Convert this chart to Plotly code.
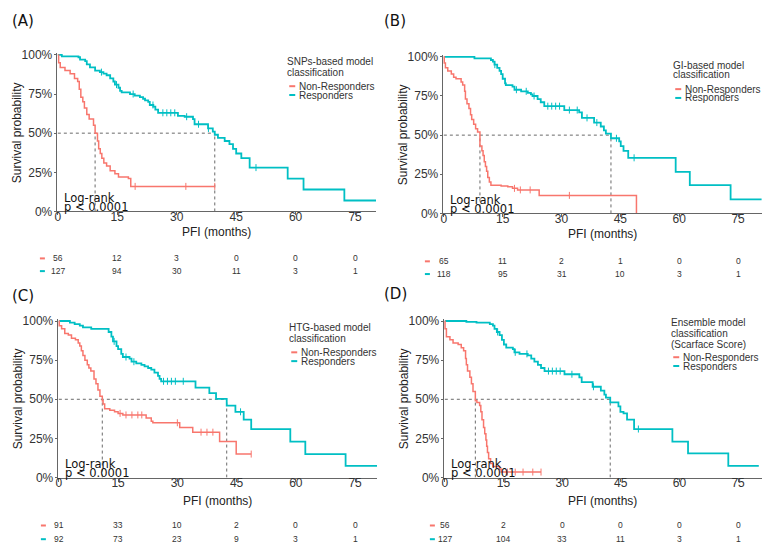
import plotly.graph_objects as go

W, H = 769, 555
RED = "#F8766D"
CYAN = "#00BFC4"

# ---------------- data ----------------
# Panel A (SNPs-based)
A_nr_t = [0, 0.2, 0.6, 1.8, 3.1, 4.2, 5.0, 5.4, 5.8, 6.3, 6.7, 7.3, 7.9, 9.0, 9.4, 10.0, 10.3, 10.7, 11.1, 11.6, 12.3, 13.2, 14.4, 15.3, 17.8, 18.4, 39.6]
A_nr_s = [1.0, 0.95, 0.92, 0.90, 0.88, 0.85, 0.83, 0.78, 0.73, 0.70, 0.66, 0.62, 0.59, 0.55, 0.50, 0.45, 0.40, 0.37, 0.34, 0.31, 0.29, 0.26, 0.24, 0.22, 0.21, 0.16, 0.16]
A_r_t = [0, 1.0, 5.2, 5.6, 6.9, 7.3, 8.1, 9.4, 10.6, 11.5, 12.3, 13.2, 14.0, 14.4, 15.3, 15.7, 16.1, 18.2, 19.4, 20.7, 21.5, 22.0, 22.8, 23.2, 24.1, 24.6, 25.3, 30.3, 32.0, 34.1, 34.5, 37.9, 39.1, 39.6, 40.4, 42.1, 43.3, 44.2, 45.0, 46.3, 48.4, 58.0, 62.0, 72.3, 80.3]
A_r_s = [1.0, 0.99, 0.985, 0.97, 0.96, 0.94, 0.92, 0.90, 0.89, 0.88, 0.87, 0.85, 0.83, 0.81, 0.79, 0.77, 0.76, 0.75, 0.74, 0.73, 0.72, 0.71, 0.70, 0.68, 0.67, 0.65, 0.63, 0.61, 0.605, 0.59, 0.557, 0.53, 0.51, 0.49, 0.47, 0.45, 0.43, 0.40, 0.37, 0.34, 0.28, 0.21, 0.14, 0.07, 0.07]
A_nr_cens = [19.5, 32.3, 39.6]
A_r_cens = [11.0, 14.8, 19.0, 24.0, 26.5, 27.5, 28.5, 29.5, 32.5, 35.5, 38.0, 50.0]
A_medians = [9.4, 39.6]

# Panel B (GI-based)
B_nr_t = [0, 0.1, 0.4, 1.0, 1.9, 2.5, 3.1, 4.4, 4.8, 5.3, 5.5, 5.9, 6.4, 6.8, 7.1, 7.6, 8.1, 8.6, 9.2, 9.7, 10.0, 10.3, 10.6, 10.9, 11.2, 11.6, 12.0, 14.6, 16.3, 17.5, 18.8, 24.3, 49.1]
B_nr_s = [1.0, 0.96, 0.93, 0.91, 0.89, 0.87, 0.86, 0.84, 0.82, 0.78, 0.73, 0.70, 0.67, 0.63, 0.60, 0.57, 0.54, 0.52, 0.43, 0.40, 0.37, 0.33, 0.30, 0.27, 0.23, 0.20, 0.18, 0.175, 0.17, 0.16, 0.15, 0.115, 0.0]
B_r_t = [0, 7.8, 12.0, 12.5, 12.9, 13.6, 14.2, 14.6, 15.0, 15.6, 15.8, 17.5, 18.0, 19.7, 21.4, 22.2, 22.6, 23.9, 24.7, 25.6, 30.7, 34.5, 35.2, 38.3, 40.0, 40.8, 41.3, 42.6, 44.7, 45.1, 45.8, 47.0, 59.1, 62.7, 73.1, 81.0]
B_r_s = [1.0, 0.99, 0.98, 0.97, 0.95, 0.93, 0.91, 0.89, 0.86, 0.83, 0.82, 0.81, 0.79, 0.78, 0.77, 0.76, 0.75, 0.73, 0.71, 0.685, 0.66, 0.645, 0.61, 0.58, 0.555, 0.53, 0.51, 0.48, 0.46, 0.43, 0.40, 0.355, 0.265, 0.18, 0.09, 0.09]
B_nr_cens = [18.0, 19.5, 22.0, 32.0]
B_r_cens = [13.0, 18.5, 21.0, 23.0, 26.5, 27.5, 28.5, 29.5, 32.0, 34.0, 36.5, 39.0, 44.0, 48.5]
B_medians = [9.2, 42.6]

# Panel C (HTG-based)
C_nr_t = [0, 0.1, 0.7, 1.5, 2.4, 3.2, 4.2, 4.9, 5.3, 5.7, 6.1, 6.6, 7.2, 7.6, 8.1, 8.9, 9.4, 9.9, 10.4, 11.0, 11.2, 11.6, 12.9, 14.1, 15.0, 16.2, 22.1, 23.4, 23.8, 30.6, 33.9, 40.7, 44.9, 48.7]
C_nr_s = [1.0, 0.97, 0.95, 0.92, 0.91, 0.89, 0.88, 0.86, 0.84, 0.81, 0.78, 0.75, 0.72, 0.70, 0.68, 0.63, 0.60, 0.56, 0.52, 0.49, 0.47, 0.44, 0.43, 0.42, 0.41, 0.40, 0.38, 0.36, 0.35, 0.32, 0.29, 0.23, 0.15, 0.15]
C_r_t = [0, 2.8, 4.0, 5.3, 6.1, 8.2, 12.6, 13.3, 13.7, 14.6, 15.0, 15.8, 16.2, 17.9, 18.4, 19.6, 20.9, 21.7, 22.6, 23.4, 24.2, 25.1, 25.5, 25.9, 34.6, 38.1, 39.8, 42.5, 44.7, 46.8, 48.7, 58.6, 62.4, 72.6, 80.6]
C_r_s = [1.0, 0.99, 0.98, 0.97, 0.96, 0.95, 0.93, 0.90, 0.87, 0.84, 0.82, 0.79, 0.77, 0.76, 0.74, 0.73, 0.72, 0.71, 0.70, 0.69, 0.67, 0.65, 0.63, 0.615, 0.575, 0.54, 0.503, 0.46, 0.42, 0.37, 0.31, 0.23, 0.15, 0.075, 0.075]
C_nr_cens = [15.5, 17.0, 18.5, 20.0, 21.0, 30.0, 36.0, 37.5, 39.0, 48.7]
C_r_cens = [14.0, 17.0, 19.0, 26.5, 27.5, 28.5, 29.5, 31.5, 46.0]
C_medians = [11.0, 42.5]

# Panel D (Ensemble / Scarface Score)
D_nr_t = [0, 0.05, 0.4, 1.3, 2.1, 3.4, 4.2, 4.8, 5.3, 5.5, 5.8, 6.4, 6.8, 7.2, 7.8, 8.2, 8.9, 9.2, 9.5, 9.9, 10.2, 10.5, 10.7, 10.9, 11.2, 11.7, 12.3, 14.0, 14.4, 24.6]
D_nr_s = [1.0, 0.95, 0.90, 0.88, 0.86, 0.85, 0.83, 0.81, 0.76, 0.72, 0.68, 0.64, 0.60, 0.55, 0.49, 0.48, 0.46, 0.42, 0.37, 0.32, 0.28, 0.24, 0.20, 0.16, 0.12, 0.09, 0.07, 0.055, 0.035, 0.035]
D_r_t = [0, 5.5, 8.1, 11.5, 12.3, 12.7, 13.3, 14.0, 14.6, 15.1, 15.7, 17.4, 17.8, 19.1, 21.2, 22.1, 22.9, 23.8, 24.6, 25.5, 30.6, 34.4, 35.0, 37.8, 39.9, 40.8, 41.2, 42.3, 44.4, 44.9, 45.7, 46.6, 48.4, 58.2, 62.2, 72.5, 80.3]
D_r_s = [1.0, 0.995, 0.99, 0.98, 0.97, 0.95, 0.93, 0.91, 0.88, 0.85, 0.83, 0.82, 0.80, 0.79, 0.78, 0.76, 0.74, 0.72, 0.70, 0.68, 0.66, 0.64, 0.61, 0.58, 0.555, 0.53, 0.51, 0.48, 0.455, 0.42, 0.41, 0.37, 0.31, 0.23, 0.155, 0.075, 0.075]
D_nr_cens = [16.0, 18.0, 20.0, 22.5, 24.6]
D_r_cens = [13.5, 18.0, 21.0, 26.5, 27.5, 28.5, 29.5, 32.5, 38.0, 49.5]
D_medians = [7.8, 42.3]

# risk tables
risk_times = [0, 15, 30, 45, 60, 75]
A_risk_nr = [56, 12, 3, 0, 0, 0]
A_risk_r = [127, 94, 30, 11, 3, 1]
B_risk_nr = [65, 11, 2, 1, 0, 0]
B_risk_r = [118, 95, 31, 10, 3, 1]
C_risk_nr = [91, 33, 10, 2, 0, 0]
C_risk_r = [92, 73, 23, 9, 3, 1]
D_risk_nr = [56, 2, 0, 0, 0, 0]
D_risk_r = [127, 104, 33, 11, 3, 1]

x_ticks = [0, 15, 30, 45, 60, 75]
y_ticks = [0, 0.25, 0.5, 0.75, 1.0]
y_ticklabels = ["0%", "25%", "50%", "75%", "100%"]

panel_labels = ["(A)", "(B)", "(C)", "(D)"]
legend_titles = [["SNPs-based model", "classification"],
                 ["GI-based model", "classification"],
                 ["HTG-based model", "classification"],
                 ["Ensemble model", "classification", "(Scarface Score)"]]
series_names = ["Non-Responders", "Responders"]

# ---------------- layout geometry (pixels) ----------------
geo = [
    dict(x0=56, ppu=3.973, xend=375, y0=211, y1=51, lab=(21, 16),
         leg_x=286, leg_title_y=[58, 69], leg_items_y=[83, 92],
         risk_y=[259, 272], risk_dash_x=41, pfi_y=232),
    dict(x0=443, ppu=3.933, xend=762, y0=213, y1=53, lab=(394, 16),
         leg_x=673, leg_title_y=[62, 71], leg_items_y=[86, 95],
         risk_y=[262, 275], risk_dash_x=427, pfi_y=234),
    dict(x0=57, ppu=3.96, xend=376, y0=483, y1=323, lab=(21, 297),
         leg_x=288, leg_title_y=[330, 341], leg_items_y=[355, 364],
         risk_y=[532, 546], risk_dash_x=42, pfi_y=507),
    dict(x0=444, ppu=3.92, xend=762, y0=483, y1=323, lab=(395, 295),
         leg_x=671, leg_title_y=[325, 336, 347], leg_items_y=[360, 369],
         risk_y=[532, 546], risk_dash_x=432, pfi_y=507),
]

panels = [
    (A_nr_t, A_nr_s, A_r_t, A_r_s, A_nr_cens, A_r_cens, A_medians, A_risk_nr, A_risk_r),
    (B_nr_t, B_nr_s, B_r_t, B_r_s, B_nr_cens, B_r_cens, B_medians, B_risk_nr, B_risk_r),
    (C_nr_t, C_nr_s, C_r_t, C_r_s, C_nr_cens, C_r_cens, C_medians, C_risk_nr, C_risk_r),
    (D_nr_t, D_nr_s, D_r_t, D_r_s, D_nr_cens, D_r_cens, D_medians, D_risk_nr, D_risk_r),
]


def px(x):
    return x / W


def py(y):
    return 1 - y / H


def step_at(t, ts, ss):
    v = ss[0]
    for ti, si in zip(ts, ss):
        if ti <= t:
            v = si
    return v


TICKFONT = dict(family="Liberation Sans, Arial", size=12, color="#333333")
AXCOL = "#666666"

fig = go.Figure()
annotations = []
shapes = []
layout = {}

YMIN, YMAX = 0.0, 1.012
XMIN = -0.3

for i, (g, p) in enumerate(zip(geo, panels)):
    nr_t, nr_s, r_t, r_s, nr_c, r_c, meds, rk_nr, rk_r = p
    xa = "x" if i == 0 else f"x{i+1}"
    ya = "y" if i == 0 else f"y{i+1}"
    xkey = "xaxis" if i == 0 else f"xaxis{i+1}"
    ykey = "yaxis" if i == 0 else f"yaxis{i+1}"
    xmax = (g["xend"] - g["x0"]) / g["ppu"]
    ppy = (g["y0"] - g["y1"])
    dom_x = [px(g["x0"] + XMIN * g["ppu"]), px(g["xend"])]
    dom_y = [py(g["y0"] - YMIN * ppy), py(g["y0"] - YMAX * ppy)]

    layout[xkey] = dict(domain=dom_x, range=[XMIN, xmax], anchor=ya,
                        tickvals=x_ticks, ticktext=[str(v) for v in x_ticks],
                        showgrid=False, zeroline=False, showline=True, linecolor=AXCOL,
                        linewidth=1, ticks="outside", ticklen=3, tickcolor=AXCOL,
                        ticklabelstandoff=-9, tickfont=TICKFONT)
    layout[ykey] = dict(domain=dom_y, range=[YMIN, YMAX], anchor=xa,
                        tickvals=y_ticks, ticktext=y_ticklabels,
                        showgrid=False, zeroline=False, showline=True, linecolor=AXCOL,
                        linewidth=1, ticks="outside", ticklen=2, tickcolor=AXCOL,
                        ticklabelstandoff=-1, tickfont=TICKFONT)

    mx = max(meds)
    fig.add_trace(go.Scatter(x=[0, mx], y=[0.5, 0.5], mode="lines", xaxis=xa, yaxis=ya,
                             line=dict(color="#444444", width=0.8, dash="dot"),
                             showlegend=False, hoverinfo="skip"))
    for m in meds:
        fig.add_trace(go.Scatter(x=[m, m], y=[0, 0.5], mode="lines", xaxis=xa, yaxis=ya,
                                 line=dict(color="#444444", width=0.8, dash="dot"),
                                 showlegend=False, hoverinfo="skip"))

    for ts, ss, cens, col, w in [(r_t, r_s, r_c, CYAN, 1.8), (nr_t, nr_s, nr_c, RED, 1.5)]:
        fig.add_trace(go.Scatter(x=ts, y=ss, mode="lines", line_shape="hv",
                                 line=dict(color=col, width=w), xaxis=xa, yaxis=ya,
                                 showlegend=False, hoverinfo="skip"))
        fig.add_trace(go.Scatter(x=cens, y=[step_at(c, ts, ss) for c in cens], mode="markers",
                                 marker=dict(symbol="line-ns", size=5,
                                             line=dict(color=col, width=1)),
                                 xaxis=xa, yaxis=ya, showlegend=False, hoverinfo="skip"))

    annotations.append(dict(text="Log-rank", xref=xa, yref="paper", x=1.0, y=py(g["y0"] - 14),
                            xanchor="left", yanchor="middle", showarrow=False,
                            font=dict(family="DejaVu Sans", size=11.5, color="#111111")))
    annotations.append(dict(text="p &lt; 0.0001", xref=xa, yref="paper", x=1.0, y=py(g["y0"] - 5),
                            xanchor="left", yanchor="middle", showarrow=False,
                            font=dict(family="DejaVu Sans", size=11.5, color="#111111")))

    annotations.append(dict(text=panel_labels[i], xref="paper", yref="paper",
                            x=px(g["lab"][0]), y=py(g["lab"][1]), xanchor="center",
                            yanchor="middle", showarrow=False,
                            font=dict(family="DejaVu Sans", size=15, color="#111111")))

    annotations.append(dict(text="PFI (months)", xref="paper", yref="paper",
                            x=(dom_x[0] + dom_x[1]) / 2, y=py(g["pfi_y"]), xanchor="center",
                            yanchor="middle", showarrow=False,
                            font=dict(family="Liberation Sans, Arial", size=12, color="#222222")))
    annotations.append(dict(text="Survival probability", xref="paper", yref="paper",
                            x=px(g["x0"] - 41), y=(dom_y[0] + dom_y[1]) / 2, xanchor="center",
                            yanchor="middle", textangle=-90, showarrow=False,
                            font=dict(family="Liberation Sans, Arial", size=12, color="#222222")))

    for line, yy in zip(legend_titles[i], g["leg_title_y"]):
        annotations.append(dict(text=line, xref="paper", yref="paper", x=px(g["leg_x"] - 2),
                                y=py(yy), xanchor="left", yanchor="middle", showarrow=False,
                                font=dict(family="Liberation Sans, Arial", size=10, color="#333333")))
    for name, col, yy in zip(series_names, [RED, CYAN], g["leg_items_y"]):
        annotations.append(dict(text=name, xref="paper", yref="paper", x=px(g["leg_x"] + 10),
                                y=py(yy), xanchor="left", yanchor="middle", showarrow=False,
                                font=dict(family="Liberation Sans, Arial", size=10, color="#333333")))
        shapes.append(dict(type="line", xref="paper", yref="paper",
                           x0=px(g["leg_x"] + 2), x1=px(g["leg_x"] + 8), y0=py(yy), y1=py(yy),
                           line=dict(color=col, width=2)))

    for vals, col, yy in zip([rk_nr, rk_r], [RED, CYAN], g["risk_y"]):
        for t, v in zip(risk_times, vals):
            annotations.append(dict(text=str(v), xref=xa, yref="paper", x=t, y=py(yy),
                                    xanchor="center", yanchor="middle", showarrow=False,
                                    font=dict(family="Liberation Sans, Arial", size=8.5,
                                              color="#333333")))
        shapes.append(dict(type="line", xref="paper", yref="paper",
                           x0=px(g["risk_dash_x"] - 3), x1=px(g["risk_dash_x"] + 2),
                           y0=py(yy), y1=py(yy), line=dict(color=col, width=2)))

fig.update_layout(
    width=W, height=H, margin=dict(l=0, r=0, t=0, b=0),
    paper_bgcolor="white", plot_bgcolor="white",
    showlegend=False, annotations=annotations, shapes=shapes,
    **layout,
)

fig.write_html("out.html", config={"displayModeBar": False},
               post_script="document.body.style.margin='0';document.body.style.padding='0';"
                           "document.body.style.overflow='hidden';")
